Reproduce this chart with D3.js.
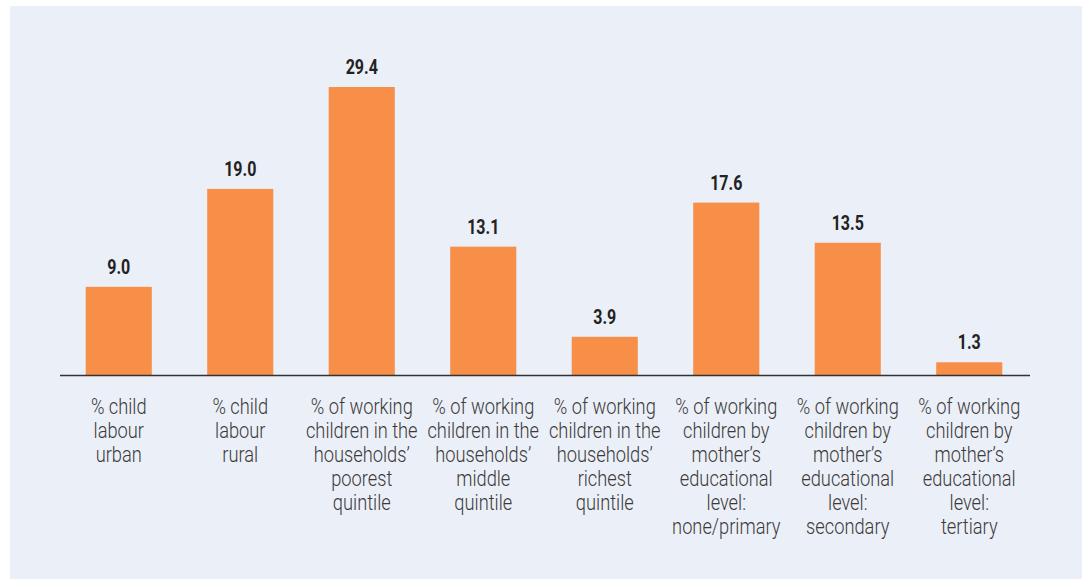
<!DOCTYPE html>
<html><head><meta charset="utf-8">
<script src="https://cdn.jsdelivr.net/npm/d3@7"></script>
<style>
html,body{margin:0;padding:0;background:#fff;}
svg text{font-family:Roboto,"Liberation Sans",sans-serif;}
</style></head>
<body><svg id="c" width="1086" height="579"></svg>
<script>
const categories = [
  ["% child","labour","urban"],
  ["% child","labour","rural"],
  ["% of working","children in the","households’","poorest","quintile"],
  ["% of working","children in the","households’","middle","quintile"],
  ["% of working","children in the","households’","richest","quintile"],
  ["% of working","children by","mother’s","educational","level:","none/primary"],
  ["% of working","children by","mother’s","educational","level:","secondary"],
  ["% of working","children by","mother’s","educational","level:","tertiary"]
];
const values = [9.0, 19.0, 29.4, 13.1, 3.9, 17.6, 13.5, 1.3];

const svg = d3.select("#c");
svg.append("rect").attr("x",10).attr("y",6).attr("width",1072).attr("height",573).attr("fill","#ebeff7");

const baseY = 375;
const x = d3.scaleBand().domain(d3.range(values.length)).range([58,1030]).paddingInner(0.456).paddingOuter(0.228);
const y = d3.scaleLinear().domain([0,29.4]).range([baseY,87]);
const cx = i => x(i)+x.bandwidth()/2;

svg.append("g").selectAll("rect").data(values).join("rect")
  .attr("x",(d,i)=>x(i)).attr("width",x.bandwidth())
  .attr("y",d=>y(d)).attr("height",d=>baseY-y(d))
  .attr("fill","#f88f49");

svg.append("line").attr("x1",60).attr("x2",1030).attr("y1",baseY+0.5).attr("y2",baseY+0.5)
  .attr("stroke","#333").attr("stroke-width",1.5);

svg.append("g").selectAll("text").data(values).join("text")
  .attr("transform",(d,i)=>`translate(${cx(i)},${y(d)-13}) scale(0.8,1)`)
  .attr("text-anchor","middle").attr("font-weight","bold").attr("font-size",20)
  .attr("fill","#222").text(d=>d.toFixed(1));

const lab = svg.append("g").selectAll("text").data(categories).join("text")
  .attr("transform",(d,i)=>`translate(${cx(i)},414) scale(0.83,1)`)
  .attr("text-anchor","middle").attr("font-size",22).attr("font-weight",300).attr("fill","#3a3a3a");
lab.each(function(d){
  const t=d3.select(this);
  d.forEach((l,j)=>t.append("tspan").attr("x",0).attr("dy",j?24:0).text(l));
});
</script></body></html>
